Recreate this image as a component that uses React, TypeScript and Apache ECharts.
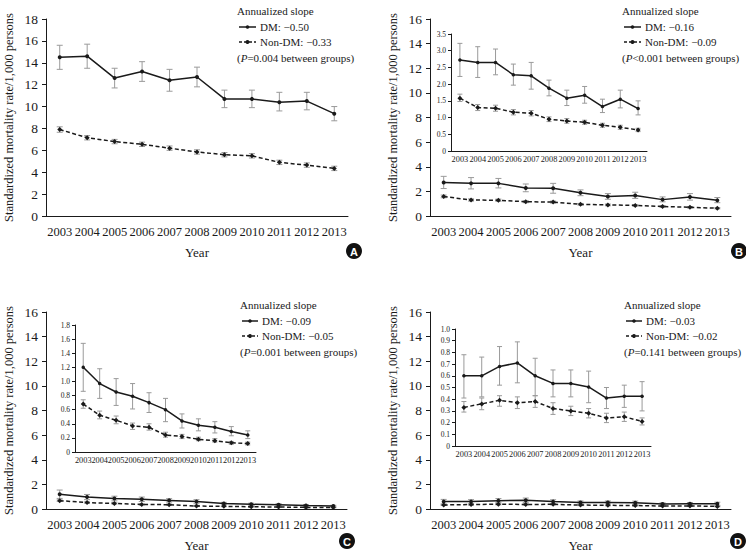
import React, { useEffect, useRef } from 'react';
import * as echarts from 'echarts';

const years = ['2003', '2004', '2005', '2006', '2007', '2008', '2009', '2010', '2011', '2012', '2013'];

// Panel A
const aDm = [14.5, 14.6, 12.6, 13.2, 12.4, 12.7, 10.7, 10.7, 10.4, 10.5, 9.35];
const aDmLow = [13.4, 13.5, 11.7, 12.3, 11.4, 11.8, 9.9, 9.9, 9.6, 9.7, 8.7];
const aDmHigh = [15.6, 15.7, 13.5, 14.1, 13.4, 13.6, 11.5, 11.5, 11.3, 11.3, 10.0];
const aNon = [7.9, 7.15, 6.8, 6.55, 6.2, 5.85, 5.6, 5.5, 4.9, 4.65, 4.35];
const aNonLow = [7.65, 6.95, 6.6, 6.35, 6.0, 5.65, 5.4, 5.3, 4.7, 4.45, 4.15];
const aNonHigh = [8.15, 7.35, 7.0, 6.75, 6.4, 6.05, 5.8, 5.7, 5.1, 4.85, 4.55];

// Panel B
const bDm = [2.72, 2.65, 2.65, 2.28, 2.25, 1.88, 1.58, 1.67, 1.33, 1.55, 1.27];
const bDmLow = [2.23, 2.2, 2.28, 1.97, 1.85, 1.65, 1.36, 1.43, 1.15, 1.29, 1.08];
const bDmHigh = [3.22, 3.12, 3.05, 2.6, 2.65, 2.12, 1.82, 1.93, 1.55, 1.82, 1.5];
const bNon = [1.58, 1.3, 1.28, 1.16, 1.13, 0.95, 0.9, 0.86, 0.77, 0.71, 0.63];
const bNonLow = [1.48, 1.21, 1.19, 1.08, 1.05, 0.88, 0.83, 0.8, 0.71, 0.65, 0.58];
const bNonHigh = [1.7, 1.39, 1.37, 1.24, 1.21, 1.02, 0.97, 0.92, 0.83, 0.77, 0.68];

// Panel C
const cDm = [1.2, 0.97, 0.85, 0.79, 0.7, 0.6, 0.44, 0.38, 0.35, 0.29, 0.24];
const cDmLow = [0.86, 0.76, 0.66, 0.61, 0.56, 0.43, 0.34, 0.3, 0.27, 0.23, 0.19];
const cDmHigh = [1.54, 1.18, 1.04, 0.97, 0.84, 0.76, 0.54, 0.47, 0.43, 0.36, 0.3];
const cNon = [0.68, 0.52, 0.45, 0.37, 0.35, 0.24, 0.22, 0.18, 0.16, 0.13, 0.12];
const cNonLow = [0.62, 0.47, 0.4, 0.32, 0.31, 0.21, 0.19, 0.16, 0.14, 0.11, 0.1];
const cNonHigh = [0.74, 0.58, 0.51, 0.41, 0.4, 0.28, 0.25, 0.21, 0.19, 0.15, 0.14];

// Panel D
const dDm = [0.6, 0.6, 0.68, 0.71, 0.6, 0.535, 0.535, 0.505, 0.41, 0.425, 0.425];
const dDmLow = [0.41, 0.42, 0.52, 0.54, 0.43, 0.42, 0.42, 0.37, 0.32, 0.33, 0.3];
const dDmHigh = [0.78, 0.76, 0.85, 0.89, 0.75, 0.65, 0.65, 0.64, 0.5, 0.52, 0.55];
const dNon = [0.33, 0.36, 0.39, 0.37, 0.38, 0.32, 0.3, 0.28, 0.24, 0.25, 0.21];
const dNonLow = [0.29, 0.31, 0.34, 0.32, 0.33, 0.27, 0.26, 0.24, 0.2, 0.21, 0.18];
const dNonHigh = [0.38, 0.41, 0.43, 0.42, 0.43, 0.37, 0.34, 0.32, 0.28, 0.29, 0.24];

const legendA = ['DM: \u22120.50', 'Non-DM: \u22120.33', '=0.004'];
const legendB = ['DM: \u22120.16', 'Non-DM: \u22120.09', '<0.001'];
const legendC = ['DM: \u22120.09', 'Non-DM: \u22120.05', '=0.001'];
const legendD = ['DM: \u22120.03', 'Non-DM: \u22120.02', '=0.141'];

const SERIF = 'Liberation Serif, DejaVu Serif, serif';
const INK = '#1a1a1a';
const ERR = '#9a9a9a';

type Panel = {
  grid: { left: number; top: number; width: number; height: number };
  max: number;
  interval: number;
  main: boolean;
  dm: number[]; dmLow: number[]; dmHigh: number[];
  non: number[]; nonLow: number[]; nonHigh: number[];
};

const panels: Panel[] = [
  { grid: { left: 46, top: 19, width: 302, height: 197 }, max: 18, interval: 2, main: true, dm: aDm, dmLow: aDmLow, dmHigh: aDmHigh, non: aNon, nonLow: aNonLow, nonHigh: aNonHigh },
  { grid: { left: 430, top: 19, width: 301, height: 197 }, max: 16, interval: 2, main: true, dm: bDm, dmLow: bDmLow, dmHigh: bDmHigh, non: bNon, nonLow: bNonLow, nonHigh: bNonHigh },
  { grid: { left: 46, top: 312, width: 301, height: 197 }, max: 16, interval: 2, main: true, dm: cDm, dmLow: cDmLow, dmHigh: cDmHigh, non: cNon, nonLow: cNonLow, nonHigh: cNonHigh },
  { grid: { left: 430, top: 312, width: 301, height: 197 }, max: 16, interval: 2, main: true, dm: dDm, dmLow: dDmLow, dmHigh: dDmHigh, non: dNon, nonLow: dNonLow, nonHigh: dNonHigh },
  { grid: { left: 451, top: 34, width: 196, height: 117 }, max: 3.5, interval: 0.5, main: false, dm: bDm, dmLow: bDmLow, dmHigh: bDmHigh, non: bNon, nonLow: bNonLow, nonHigh: bNonHigh },
  { grid: { left: 75, top: 325, width: 181, height: 127 }, max: 1.8, interval: 0.2, main: false, dm: cDm, dmLow: cDmLow, dmHigh: cDmHigh, non: cNon, nonLow: cNonLow, nonHigh: cNonHigh },
  { grid: { left: 455, top: 329, width: 196, height: 117 }, max: 1.0, interval: 0.1, main: false, dm: dDm, dmLow: dDmLow, dmHigh: dDmHigh, non: dNon, nonLow: dNonLow, nonHigh: dNonHigh },
];

function errSeries(idx: number, lo: number[], hi: number[], cap: number) {
  return {
    type: 'custom',
    xAxisIndex: idx,
    yAxisIndex: idx,
    z: 1,
    silent: true,
    encode: { x: 0, y: [1, 2] },
    data: years.map((_, i) => [i, lo[i], hi[i]]),
    renderItem: (params: any, api: any) => {
      const x = api.value(0);
      const pLo = api.coord([x, api.value(1)]);
      const pHi = api.coord([x, api.value(2)]);
      const st = { stroke: ERR, lineWidth: 1 };
      return {
        type: 'group',
        children: [
          { type: 'line', shape: { x1: pLo[0], y1: pLo[1], x2: pHi[0], y2: pHi[1] }, style: st },
          { type: 'line', shape: { x1: pLo[0] - cap, y1: pLo[1], x2: pLo[0] + cap, y2: pLo[1] }, style: st },
          { type: 'line', shape: { x1: pHi[0] - cap, y1: pHi[1], x2: pHi[0] + cap, y2: pHi[1] }, style: st },
        ],
      };
    },
  };
}

function txt(left: number, top: number, text: string, extra: any = {}) {
  return {
    type: 'text',
    left,
    top,
    style: { text, fontFamily: SERIF, fontSize: 11, fill: INK, ...extra },
  };
}

function legendGraphics(x: number, y: number, textX: number, labels: string[]) {
  const lineEnd = textX - 4;
  const mid = (x + 2 + lineEnd) / 2;
  const items: any[] = [
    txt(x, y - 6, 'Annualized slope'),
    { type: 'line', shape: { x1: x + 2, y1: y + 16, x2: lineEnd, y2: y + 16 }, style: { stroke: INK, lineWidth: 1.5 } },
    { type: 'circle', shape: { cx: mid, cy: y + 16, r: 1.8 }, style: { fill: INK } },
    txt(textX, y + 10, labels[0]),
    { type: 'line', shape: { x1: x + 2, y1: y + 31, x2: lineEnd, y2: y + 31 }, style: { stroke: INK, lineWidth: 1.5, lineDash: [3, 2] } },
    { type: 'circle', shape: { cx: mid, cy: y + 31, r: 2 }, style: { fill: INK } },
    txt(textX, y + 25, labels[1]),
  ];
  items.push(
    txt(x, y + 41, `({i|P}${labels[2]} between groups)`, {
      rich: { i: { fontStyle: 'italic', fontSize: 11, fontFamily: SERIF, fill: INK } },
    })
  );
  return items;
}

function badge(cx: number, cy: number, letter: string) {
  return [
    { type: 'circle', shape: { cx, cy, r: 8 }, style: { fill: '#111' } },
    {
      type: 'text',
      x: cx,
      y: cy + 0.5,
      style: { text: letter, fontFamily: 'Liberation Sans, Arial, sans-serif', fontWeight: 'bold', fontSize: 11, fill: '#fff', align: 'center', verticalAlign: 'middle' },
    },
  ];
}

export default function App() {
  const ref = useRef<HTMLDivElement>(null);
  useEffect(() => {
    if (!ref.current) return;
    const chart = echarts.init(ref.current, null, { renderer: 'svg' });

    const grid = panels.map((p) => ({ ...p.grid, containLabel: false }));
    const xAxis = panels.map((p, i) => ({
      type: 'category',
      gridIndex: i,
      data: years,
      boundaryGap: true,
      axisLine: { lineStyle: { color: INK, width: 1 } },
      axisTick: { inside: true, length: p.main ? 4 : 3, lineStyle: { color: INK } },
      axisLabel: {
        interval: 0,
        color: INK,
        fontFamily: SERIF,
        fontSize: p.main ? 12.5 : 8.3,
        margin: p.main ? 9 : 4,
      },
      name: p.main ? 'Year' : '',
      nameLocation: 'middle',
      nameGap: 30,
      nameTextStyle: { color: INK, fontFamily: SERIF, fontSize: 13 },
      splitLine: { show: false },
    }));
    const yAxis = panels.map((p, i) => ({
      type: 'value',
      gridIndex: i,
      min: 0,
      max: p.max,
      interval: p.interval,
      axisLine: { show: true, lineStyle: { color: INK, width: 1 } },
      axisTick: { show: true, length: p.main ? 4 : 3, lineStyle: { color: INK } },
      axisLabel: {
        color: INK,
        fontFamily: SERIF,
        fontSize: p.main ? 13.5 : 7.5,
        margin: p.main ? 8 : 5,
        formatter: (v: number) => (p.main ? String(v) : v === 0 ? '0' : v.toFixed(1)),
      },
      name: p.main ? 'Standardized mortality rate/1,000 persons' : '',
      nameLocation: 'middle',
      nameRotate: 90,
      nameGap: 31,
      nameTextStyle: { color: INK, fontFamily: SERIF, fontSize: 12.5 },
      splitLine: { show: false },
    }));

    const series: any[] = [];
    panels.forEach((p, i) => {
      const cap = p.main ? 3 : 2.5;
      series.push(errSeries(i, p.dmLow, p.dmHigh, cap));
      series.push(errSeries(i, p.nonLow, p.nonHigh, cap));
      series.push({
        type: 'line',
        xAxisIndex: i,
        yAxisIndex: i,
        data: p.dm,
        z: 3,
        symbol: 'circle',
        symbolSize: p.main ? 4 : 3.5,
        itemStyle: { color: INK },
        lineStyle: { color: INK, width: 1.5 },
        silent: true,
      });
      series.push({
        type: 'line',
        xAxisIndex: i,
        yAxisIndex: i,
        data: p.non,
        z: 3,
        symbol: 'diamond',
        symbolSize: 5,
        itemStyle: { color: INK },
        lineStyle: { color: INK, width: 1.5, type: [4, 2.5] },
        silent: true,
      });
    });

    const graphic: any[] = [
      ...legendGraphics(237, 11, 260, legendA),
      ...legendGraphics(622, 11, 645, legendB),
      ...legendGraphics(240, 305, 262, legendC),
      ...legendGraphics(624, 305, 646, legendD),
      ...badge(354, 251, 'A'),
      ...badge(739, 251, 'B'),
      ...badge(347, 541, 'C'),
      ...badge(738, 541, 'D'),
    ];

    chart.setOption({
      animation: false,
      backgroundColor: '#fff',
      grid,
      xAxis,
      yAxis,
      series,
      graphic,
    });
    return () => chart.dispose();
  }, []);
  return <div ref={ref} style={{ position: 'absolute', left: 0, top: 0, width: 746, height: 553 }} />;
}
